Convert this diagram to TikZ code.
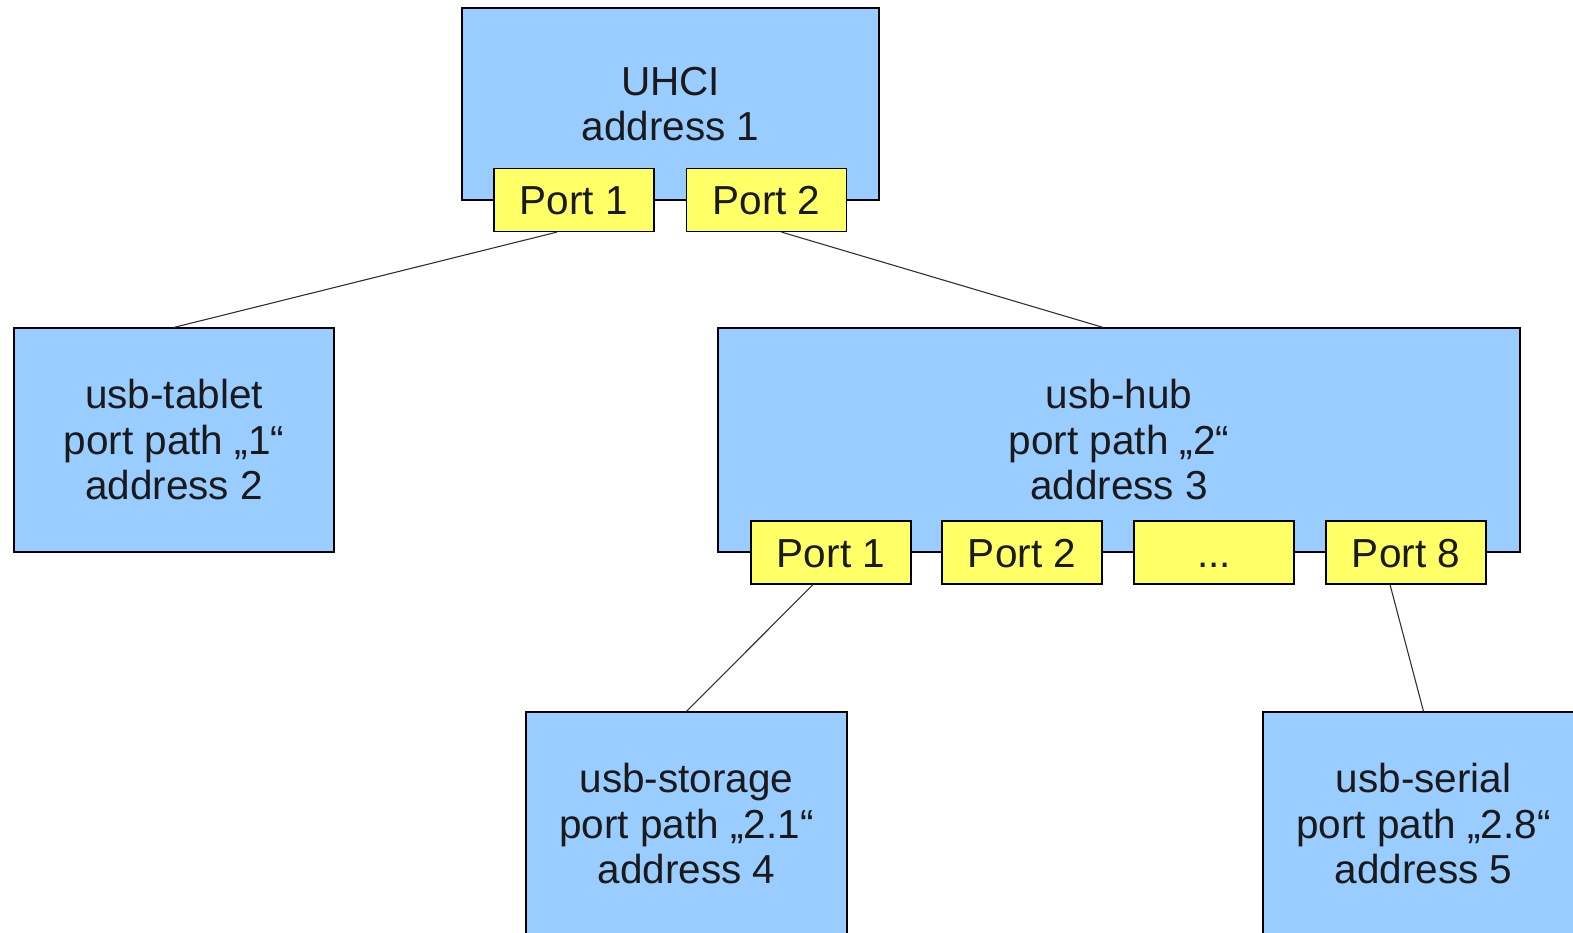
\documentclass[tikz,border=0pt]{standalone}
\usepackage{fontspec}
\setmainfont{Liberation Sans}
\definecolor{devblue}{HTML}{99CCFF}
\definecolor{portyellow}{HTML}{FFFF66}
\definecolor{ink}{HTML}{1A1A1A}
\begin{document}
\begin{tikzpicture}[x=1pt,y=-1pt,
  device/.style={draw=black, line width=1.2pt, fill=devblue, text=ink,
    align=center, inner sep=0pt, font=\fontsize{40.5}{45.5}\selectfont},
  port/.style={draw=black, line width=1.2pt, fill=portyellow, text=ink,
    minimum width=160pt, minimum height=63pt, inner sep=0pt,
    text height=29pt, text depth=0pt,
    font=\fontsize{40.5}{45.5}\selectfont},
  link/.style={draw=ink!90, line width=1.1pt}]
\useasboundingbox (0,0) rectangle (1573,933);
\begin{scope}
\clip (0,0) rectangle (1573,933);
% host controller with its two root ports
\node[device, minimum width=417pt, minimum height=192pt] (uhci) at (670.5,104) {UHCI\\address 1};
\node[port] (up1) at (574,200) {Port 1};
\node[port] (up2) at (766.5,200) {Port 2};
% devices on the root ports
\node[device, minimum width=320pt, minimum height=224pt] (tablet) at (174,440) {usb-tablet\\port path „1“\\address 2};
\node[device, minimum width=802pt, minimum height=224pt] (hub) at (1119,440) {usb-hub\\port path „2“\\address 3};
% hub ports
\node[port] (hp1) at (831,552.5) {Port 1};
\node[port] (hp2) at (1022,552.5) {Port 2};
\node[port] (hpx) at (1214,552.5) {...};
\node[port] (hp8) at (1406,552.5) {Port 8};
% devices behind the hub
\node[device, minimum width=321pt, minimum height=224pt] (storage) at (686.5,824) {usb-storage\\port path „2.1“\\address 4};
\node[device, minimum width=321pt, minimum height=224pt] (serial) at (1423.5,824) {usb-serial\\port path „2.8“\\address 5};
% bus connections
\draw[link] ([xshift=-17pt]up1.south) -- (tablet.north);
\draw[link] ([xshift=15pt]up2.south) -- ([xshift=-16pt]hub.north);
\draw[link] ([xshift=-18pt]hp1.south) -- (storage.north);
\draw[link] ([xshift=-16pt]hp8.south) -- (serial.north);
\end{scope}
\end{tikzpicture}
\end{document}
